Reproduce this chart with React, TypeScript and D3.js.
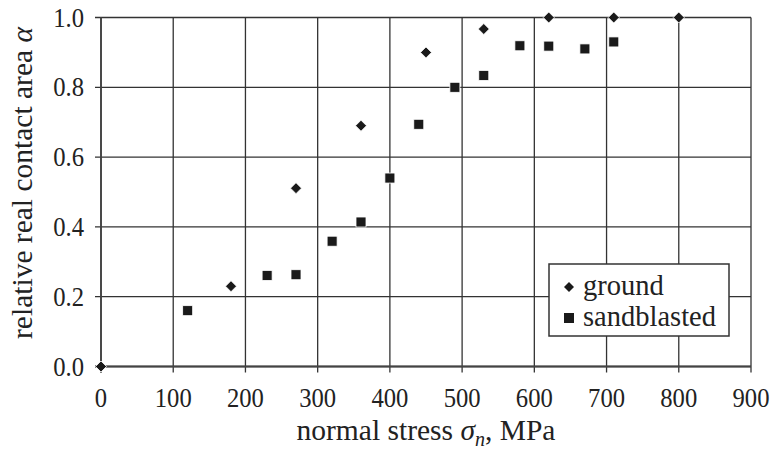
import React from "react";
import * as d3 from "d3";

const groundX = [0, 180, 270, 360, 450, 530, 620, 710, 800];
const groundY = [0, 0.23, 0.511, 0.69, 0.9, 0.967, 1.0, 1.0, 1.0];
const sandX = [120, 230, 270, 320, 360, 400, 440, 490, 530, 580, 620, 670, 710];
const sandY = [0.16, 0.261, 0.263, 0.359, 0.414, 0.54, 0.694, 0.8, 0.834, 0.919, 0.918, 0.91, 0.93];
const xTicks = [0, 100, 200, 300, 400, 500, 600, 700, 800, 900];
const yTicks = [0, 0.2, 0.4, 0.6, 0.8, 1.0];

const W = 771;
const H = 455;
const FONT = "'Liberation Serif', 'DejaVu Serif', serif";

function T(props: { x: number; y: number; anchor?: string; size?: number; rotate?: number; sx?: number; children: React.ReactNode }) {
  const { x, y, anchor = "middle", size = 28, rotate = 0, sx = 0.88, children } = props;
  return (
    <g transform={`translate(${x},${y}) rotate(${rotate}) scale(${sx},1)`}>
      <text x={0} y={0} textAnchor={anchor} fontFamily={FONT} fontSize={size} fill="#222">
        {children}
      </text>
    </g>
  );
}

function diamond(cx: number, cy: number, r: number) {
  return `M${cx},${cy - r}L${cx + r},${cy}L${cx},${cy + r}L${cx - r},${cy}Z`;
}

export default function App() {
  const x = d3.scaleLinear().domain([0, 900]).range([101, 751]);
  const y = d3.scaleLinear().domain([0, 1]).range([366.5, 17.5]);
  const stroke = "#333";
  return (
    <svg width={W} height={H} style={{ position: "absolute", left: 0, top: 0, background: "#fff" }}>
      {xTicks.map((t) => (
        <line key={"gx" + t} x1={x(t)} x2={x(t)} y1={y(1)} y2={y(0) + 6} stroke={stroke} strokeWidth={1.3} />
      ))}
      {yTicks.map((t) => (
        <line key={"gy" + t} x1={x(0) - 6} x2={x(900)} y1={y(t)} y2={y(t)} stroke={stroke} strokeWidth={1.3} />
      ))}
      <line x1={x(0)} x2={x(0)} y1={y(1)} y2={y(0) + 6} stroke="#444" strokeWidth={1.8} />
      <line x1={x(0) - 6} x2={x(900)} y1={y(0)} y2={y(0)} stroke="#444" strokeWidth={1.8} />
      {xTicks.map((t) => (
        <T key={"tx" + t} x={x(t)} y={407}>
          {d3.format("d")(t)}
        </T>
      ))}
      {yTicks.map((t) => (
        <T key={"ty" + t} x={84} y={y(t) + 9} anchor="end">
          {d3.format(".1f")(t)}
        </T>
      ))}
      <T x={426} y={440} sx={1} size={29.5}>
        normal stress <tspan fontStyle="italic">σ</tspan>
        <tspan fontStyle="italic" fontSize={20} dy={6}>n</tspan>
        <tspan dy={-6}>, MPa</tspan>
      </T>
      <T x={32} y={183} rotate={-90} sx={1} size={29.5}>
        relative real contact area <tspan fontStyle="italic">α</tspan>
      </T>
      {sandX.map((v, i) => (
        <rect key={"s" + i} x={x(v) - 5} y={y(sandY[i]) - 5} width={10} height={10} fill="#1a1a1a" stroke="#fff" strokeWidth={0.8} />
      ))}
      {groundX.map((v, i) => (
        <path key={"g" + i} d={diamond(x(v), y(groundY[i]), 5.5)} fill="#1a1a1a" stroke="#fff" strokeWidth={0.8} />
      ))}
      <rect x={549} y={264} width={180} height={72} fill="#fff" stroke={stroke} strokeWidth={1.5} />
      <path d={diamond(569, 287, 5)} fill="#1a1a1a" />
      <rect x={564} y={313} width={10} height={10} fill="#1a1a1a" />
      <T x={583} y={295} anchor="start" sx={1} size={28.5}>ground</T>
      <T x={583} y={326} anchor="start" sx={1} size={28.5}>sandblasted</T>
    </svg>
  );
}
